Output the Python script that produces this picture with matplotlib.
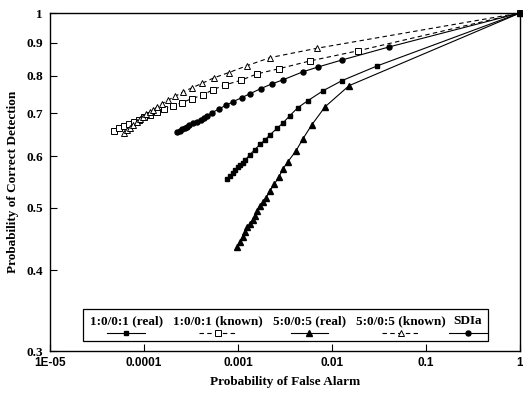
import matplotlib
matplotlib.use("Agg")
import matplotlib.pyplot as plt
from matplotlib.lines import Line2D
from matplotlib.patches import Rectangle
from matplotlib.ticker import FixedLocator, NullLocator

# ---- data ----
sdia_x = [2.24e-4, 2.4e-4, 2.55e-4, 2.7e-4, 2.85e-4, 3.0e-4, 3.3e-4, 3.66e-4, 4.0e-4, 4.3e-4,
          4.7e-4, 5.3e-4, 6.3e-4, 7.5e-4, 8.85e-4, 1.1e-3, 1.34e-3, 1.75e-3, 2.3e-3, 3.0e-3,
          4.9e-3, 7.1e-3, 0.0128, 0.0404, 1.0]
sdia_y = [0.655, 0.658, 0.661, 0.664, 0.667, 0.670, 0.675, 0.679, 0.684, 0.688,
          0.693, 0.701, 0.711, 0.720, 0.729, 0.740, 0.750, 0.764, 0.777, 0.788,
          0.811, 0.825, 0.846, 0.886, 1.0]

real1_x = [7.64e-4, 8.2e-4, 8.8e-4, 9.4e-4, 1.0e-3, 1.05e-3, 1.12e-3, 1.2e-3, 1.34e-3, 1.5e-3,
           1.71e-3, 1.95e-3, 2.19e-3, 2.6e-3, 3.01e-3, 3.57e-3, 4.34e-3, 5.56e-3, 8.02e-3,
           0.0128, 0.0301, 1.0]
real1_y = [0.554, 0.560, 0.566, 0.571, 0.577, 0.581, 0.587, 0.593, 0.604, 0.614,
           0.626, 0.637, 0.648, 0.663, 0.676, 0.694, 0.714, 0.732, 0.758,
           0.786, 0.828, 1.0]

real5_x = [9.75e-4, 1.05e-3, 1.12e-3, 1.19e-3, 1.26e-3, 1.34e-3, 1.43e-3, 1.52e-3, 1.61e-3,
           1.71e-3, 1.85e-3, 1.99e-3, 2.19e-3, 2.42e-3, 2.73e-3, 3.01e-3, 3.40e-3, 4.14e-3,
           4.91e-3, 6.12e-3, 8.44e-3, 0.0152, 1.0]
real5_y = [0.434, 0.443, 0.451, 0.459, 0.466, 0.472, 0.479, 0.486, 0.494,
           0.502, 0.510, 0.518, 0.531, 0.543, 0.558, 0.574, 0.589, 0.612,
           0.639, 0.672, 0.716, 0.772, 1.0]

known1_x = [4.8e-5, 5.4e-5, 6.12e-5, 6.9e-5, 7.8e-5, 8.8e-5, 1.0e-4, 1.16e-4, 1.37e-4, 1.63e-4,
            2.04e-4, 2.54e-4, 3.24e-4, 4.25e-4, 5.42e-4, 7.28e-4, 1.08e-3, 1.59e-3, 2.73e-3,
            5.83e-3, 0.0189, 1.0]
known1_y = [0.658, 0.663, 0.669, 0.674, 0.679, 0.684, 0.690, 0.696, 0.703, 0.711,
            0.719, 0.727, 0.737, 0.747, 0.761, 0.774, 0.787, 0.805, 0.820,
            0.843, 0.874, 1.0]

known5_x = [6.12e-5, 6.6e-5, 7.1e-5, 7.7e-5, 8.43e-5, 9.1e-5, 9.75e-5, 1.06e-4, 1.16e-4, 1.26e-4,
            1.37e-4, 1.55e-4, 1.80e-4, 2.14e-4, 2.60e-4, 3.24e-4, 4.19e-4, 5.56e-4, 8.02e-4,
            1.25e-3, 2.19e-3, 6.92e-3, 1.0]
known5_y = [0.653, 0.659, 0.665, 0.672, 0.679, 0.685, 0.691, 0.697, 0.702, 0.709,
            0.715, 0.724, 0.733, 0.743, 0.755, 0.766, 0.779, 0.794, 0.809,
            0.829, 0.853, 0.882, 1.0]

x_ticks = [1e-5, 1e-4, 1e-3, 1e-2, 1e-1, 1]
x_ticklabels = ["1E-05", "0.0001", "0.001", "0.01", "0.1", "1"]
y_ticks = [0.3, 0.4, 0.5, 0.6, 0.7, 0.8, 0.9, 1.0]
y_ticklabels = ["0.3", "0.4", "0.5", "0.6", "0.7", "0.8", "0.9", "1"]
legend_labels = ["1:0/0:1 (real)", "1:0/0:1 (known)", "5:0/0:5 (real)", "5:0/0:5 (known)", "SDIa"]

SERIF = "Liberation Serif"
SANS = "Liberation Sans"

fig = plt.figure(figsize=(5.23, 3.95), dpi=100)
ax = fig.add_axes([50 / 523, 1 - 351 / 395, 470 / 523, 338 / 395])
ax.set_xscale("log")
ax.set_yscale("log")
ax.set_xlim(1e-5, 1)
ax.set_ylim(0.3, 1.0)

lw = 0.8
styles = [
    (real1_x, real1_y, dict(color="black", ls="-", marker="s", ms=3.3, mfc="black", lw=lw)),
    (known1_x, known1_y, dict(color="black", ls=(0, (4, 3)), marker="s", ms=4.2, mfc="white", mew=0.7, lw=lw)),
    (real5_x, real5_y, dict(color="black", ls="-", marker="^", ms=3.8, mfc="black", lw=lw)),
    (known5_x, known5_y, dict(color="black", ls=(0, (4, 3)), marker="^", ms=4.6, mfc="white", mew=0.7, lw=lw)),
    (sdia_x, sdia_y, dict(color="black", ls="-", marker="o", ms=3.6, mfc="black", lw=lw)),
]
for xs, ys, st in styles:
    ax.plot(xs, ys, clip_on=False, zorder=3, **st)

ax.xaxis.set_major_locator(FixedLocator(x_ticks))
ax.xaxis.set_minor_locator(NullLocator())
ax.yaxis.set_major_locator(FixedLocator(y_ticks))
ax.yaxis.set_minor_locator(NullLocator())
ax.set_xticklabels(x_ticklabels, fontfamily=SANS, fontweight="bold", fontsize=8.5)
ax.set_yticklabels(y_ticklabels, fontfamily=SERIF, fontweight="bold", fontsize=9.5)
ax.tick_params(axis="both", direction="in", length=5, width=0.8, colors="black")
ax.tick_params(axis="x", pad=4)
ax.tick_params(axis="y", pad=5)
for s in ax.spines.values():
    s.set_linewidth(1.0)
    s.set_color("black")

ax.set_xlabel("Probability of False Alarm", fontfamily=SERIF, fontweight="bold", fontsize=9.5, labelpad=5)
ax.set_ylabel("Probability of Correct Detection", fontfamily=SERIF, fontweight="bold", fontsize=9.5, labelpad=5)

# ---- legend (text above, handle below) ----
ax.add_patch(Rectangle((0.070, 0.030), 0.862, 0.094, transform=ax.transAxes,
                       facecolor="white", edgecolor="black", lw=0.9, zorder=5, clip_on=False))
centers = [0.162, 0.357, 0.552, 0.747, 0.889]
for (xs, ys, st), lab, cx in zip(styles, legend_labels, centers):
    ax.text(cx, 0.088, lab, transform=ax.transAxes, ha="center", va="center",
            fontfamily=SERIF, fontweight="bold", fontsize=9.5, zorder=6)
    ax.add_line(Line2D([cx - 0.04, cx, cx + 0.04], [0.054, 0.054, 0.054], transform=ax.transAxes,
                       markevery=[1], zorder=6, clip_on=False, **st))

fig.savefig("out.png", dpi=100, facecolor="white")
